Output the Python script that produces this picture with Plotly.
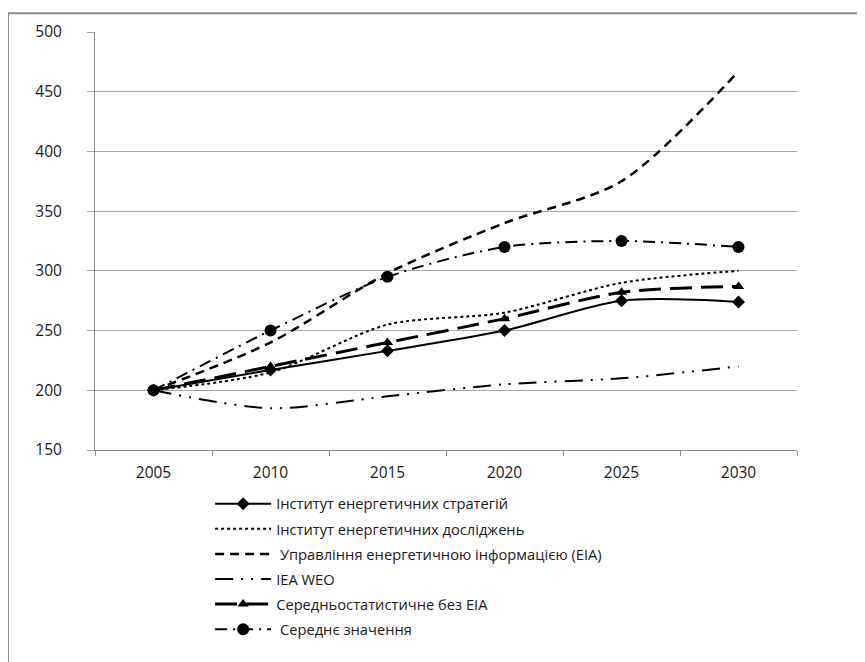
import plotly.graph_objects as go

years = ["2005", "2010", "2015", "2020", "2025", "2030"]

names = [
    "Інститут енергетичних стратегій",
    "Інститут енергетичних досліджень",
    " Управління енергетичною інформацією (EIA)",
    "IEA WEO",
    "Середньостатистичне без EIA",
    " Середнє значення",
]

ies = [200, 217, 233, 250, 275, 274]
ied = [200, 215, 255, 265, 290, 300]
eia = [200, 240, 298, 340, 375, 467]
iea_weo = [200, 185, 195, 205, 210, 220]
avg_no_eia = [200, 220, 240, 260, 282, 287]
avg_all = [200, 250, 295, 320, 325, 320]

series = [ies, ied, eia, iea_weo, avg_no_eia, avg_all]

styles = [
    dict(line=dict(color="black", width=2, dash="solid"), mode="lines+markers",
         marker=dict(symbol="diamond", size=10, color="black")),
    dict(line=dict(color="black", width=2, dash="dot"), mode="lines", marker=None),
    dict(line=dict(color="black", width=2.5, dash="9px,6px"), mode="lines", marker=None),
    dict(line=dict(color="black", width=2, dash="18px,8px,2px,8px,2px,8px"), mode="lines", marker=None),
    dict(line=dict(color="black", width=3, dash="22px,9px"), mode="lines+markers",
         marker=dict(symbol="triangle-up", size=10, color="black")),
    dict(line=dict(color="black", width=2, dash="12px,6px,2px,6px"), mode="lines+markers",
         marker=dict(symbol="circle", size=12, color="black")),
]

fig = go.Figure()
for i, (nm, vals, st) in enumerate(zip(names, series, styles)):
    kw = dict(x=years, y=vals, name=nm, mode=st["mode"], legendgroup=f"g{i}")
    ln = dict(st["line"])
    ln["shape"] = "spline"
    ln["smoothing"] = 0.8
    kw["line"] = ln
    if st["marker"] is not None:
        kw["marker"] = st["marker"]
    fig.add_trace(go.Scatter(**kw))

font_family = "Open Sans"

# page has an 8px body margin; plot area in page coords: x 95..797, y 28..450
fig.update_layout(
    width=865, height=662,
    margin=dict(l=87, r=76, t=20, b=220),
    paper_bgcolor="white", plot_bgcolor="white",
    font=dict(family=font_family, size=15, color="#1a1a1a"),
    showlegend=True,
    legend=dict(
        x=0.164, y=-0.09, xanchor="left", yanchor="top",
        orientation="v", font=dict(size=14.7, color="#1a1a1a"),
        tracegroupgap=3, bgcolor="rgba(0,0,0,0)", itemwidth=56,
    ),
    xaxis=dict(
        type="category", range=[-0.5, 5.5],
        showgrid=False, zeroline=False,
        showline=True, linecolor="#8c8c8c", linewidth=1,
        ticks="outside", tickson="boundaries", ticklen=5, tickcolor="#8c8c8c",
        ticklabelstandoff=8,
        tickfont=dict(size=15.5, color="#1a1a1a"),
    ),
    yaxis=dict(
        range=[150, 500], dtick=50, tick0=150,
        showgrid=True, gridcolor="#a6a6a6", gridwidth=1,
        zeroline=False,
        showline=True, linecolor="#8c8c8c", linewidth=1,
        ticks="outside", ticklen=7, tickcolor="#a6a6a6",
        ticklabelstandoff=22,
        tickfont=dict(size=15.5, color="#1a1a1a"),
    ),
    shapes=[
        dict(type="line", xref="paper", yref="paper",
             x0=(8 - 95) / 702, x1=(8 - 95) / 702,
             y0=(450 - 670) / 422, y1=(450 - 9) / 422,
             line=dict(color="#8c8c8c", width=2)),
        dict(type="line", xref="paper", yref="paper",
             x0=(8 - 95) / 702, x1=(870 - 95) / 702,
             y0=(450 - 9) / 422, y1=(450 - 9) / 422,
             line=dict(color="#8c8c8c", width=2)),
    ],
)

fig.write_html("out.html")
